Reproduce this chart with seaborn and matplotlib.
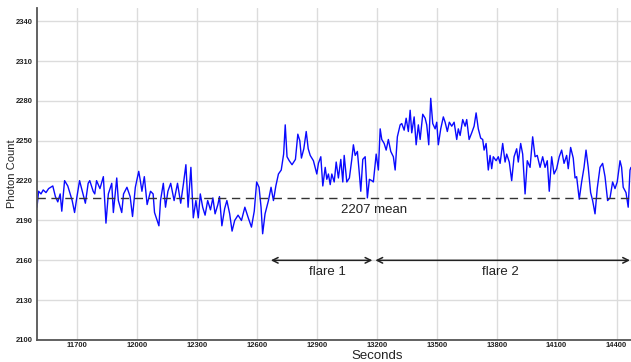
import matplotlib
matplotlib.use("Agg")
import matplotlib.pyplot as plt
import seaborn as sns
import pandas as pd

seconds = [
    11500, 11508, 11520, 11531, 11545, 11558, 11579, 11592, 11604, 11616,
    11624, 11638, 11654, 11666, 11676, 11688, 11700, 11713, 11730, 11742,
    11756, 11764, 11781, 11789, 11798, 11815, 11832, 11845, 11857, 11874,
    11882, 11899, 11907, 11924, 11933, 11950, 11966, 11978, 11992, 12009,
    12017, 12025, 12037, 12051, 12068, 12081, 12088, 12101, 12110, 12118,
    12132, 12143, 12155, 12169, 12186, 12203, 12219, 12233, 12245, 12256,
    12270, 12282, 12295, 12307, 12317, 12329, 12341, 12354, 12368, 12380,
    12391, 12405, 12413, 12425, 12439, 12450, 12464, 12476, 12489, 12506,
    12523, 12540, 12557, 12573, 12587, 12599, 12611, 12621, 12629, 12641,
    12658, 12671, 12683, 12695, 12708, 12722, 12734, 12742, 12751, 12762,
    12776, 12793, 12805, 12815, 12823, 12835, 12847, 12857,
    12867, 12883, 12900, 12908, 12920, 12930, 12942, 12950, 12958, 12967,
    12975, 12987, 12997, 13008, 13020, 13030, 13037, 13050, 13063, 13075,
    13083, 13092, 13103, 13113, 13120, 13130, 13142, 13153, 13163, 13175,
    13183, 13197, 13208, 13217, 13225, 13237, 13247, 13258, 13270, 13283,
    13292, 13303, 13317, 13325, 13337, 13347, 13358, 13367, 13375, 13387,
    13397, 13408, 13417, 13430, 13442, 13450, 13460, 13470, 13480, 13492,
    13500, 13508, 13520, 13533, 13542, 13553, 13563, 13575, 13587, 13600,
    13608, 13617, 13630, 13642, 13650, 13662, 13675, 13687, 13697, 13708,
    13720, 13730, 13737, 13747, 13758, 13767, 13775, 13783, 13797, 13808,
    13817, 13830, 13842, 13850, 13863, 13875, 13887, 13900, 13908, 13920,
    13930, 13942, 13953, 13967, 13980, 13992, 14003, 14017, 14030, 14042,
    14053, 14063, 14075, 14087, 14100, 14113, 14125, 14137, 14150, 14158,
    14170, 14183, 14192, 14200, 14213, 14225, 14237, 14247, 14258, 14270,
    14280, 14292, 14303, 14317, 14330, 14342, 14355, 14367, 14380, 14392,
    14403, 14417, 14425, 14433, 14447, 14458, 14467, 14472,
]
counts = [
    2200, 2212, 2210, 2213, 2211, 2214, 2216, 2208, 2204, 2210,
    2197, 2220, 2216, 2210, 2205, 2196, 2208, 2220, 2210, 2203,
    2218, 2220, 2212, 2210, 2220, 2214, 2223, 2188, 2210, 2218,
    2196, 2222, 2205, 2196, 2210, 2215, 2208, 2193, 2215, 2227,
    2220, 2212, 2223, 2202, 2212, 2210, 2196, 2190, 2186, 2205,
    2218, 2200, 2212, 2218, 2205, 2218, 2203, 2218, 2232, 2200,
    2230, 2192, 2205, 2192, 2210, 2200, 2194, 2205, 2198, 2207,
    2195, 2202, 2208, 2186, 2199, 2205, 2195, 2182, 2190, 2194,
    2190, 2200, 2192, 2185, 2197, 2219, 2215, 2200, 2180, 2195,
    2205, 2215, 2205, 2216, 2225, 2228, 2240, 2262, 2238, 2235,
    2232, 2236, 2255, 2250, 2237, 2244, 2257, 2244,
    2239, 2235, 2225, 2233, 2238, 2216, 2230, 2221, 2225, 2217,
    2225, 2219, 2234, 2222, 2236, 2219, 2239, 2219, 2222, 2236,
    2247, 2239, 2242, 2225, 2212, 2236, 2238, 2207, 2221, 2220,
    2219, 2240, 2228, 2259, 2251, 2248, 2243, 2251, 2242, 2238,
    2228, 2253, 2262, 2263, 2258, 2267, 2257, 2273, 2256, 2268,
    2247, 2262, 2251, 2270, 2267, 2262, 2247, 2282, 2263, 2259,
    2264, 2247, 2259, 2268, 2264, 2257, 2264, 2261, 2264, 2251,
    2259, 2254, 2266, 2261, 2266, 2251, 2256, 2261, 2271, 2259,
    2252, 2251, 2243, 2248, 2228, 2239, 2229, 2238, 2235, 2238,
    2233, 2248, 2234, 2240, 2234, 2220, 2238, 2244, 2234, 2248,
    2240, 2210, 2235, 2230, 2253, 2238, 2239, 2230, 2238, 2230,
    2235, 2212, 2238, 2225, 2229, 2238, 2243, 2233, 2239, 2229,
    2245, 2237, 2222, 2223, 2206, 2219, 2230, 2243, 2230, 2211,
    2205, 2195, 2214, 2230, 2233, 2223, 2205, 2207, 2219, 2214,
    2219, 2235, 2230, 2215, 2211, 2200, 2228, 2230,
]
mean_count = 2207
x_ticks = [11700, 12000, 12300, 12600, 12900, 13200, 13500, 13800, 14100, 14400]
y_ticks = [2100, 2130, 2160, 2190, 2220, 2250, 2280, 2310, 2340]
flare1 = (12670, 13178)
flare2 = (13193, 14467)

df = pd.DataFrame({"Seconds": seconds, "Photon Count": counts})

sns.set_style("whitegrid", {"grid.color": "#dcdcdc"})
plt.rcParams["font.family"] = ["Liberation Sans", "DejaVu Sans"]

fig = plt.figure(figsize=(6.31, 3.62), dpi=100)
ax = fig.add_axes([37 / 631, 22 / 362, 1 - 37 / 631, 332 / 362])

sns.lineplot(data=df, x="Seconds", y="Photon Count", ax=ax,
             color="#0a0aff", linewidth=1.0)

ax.axhline(mean_count, color="#333333", linestyle=(0, (6, 4)), linewidth=1.0)
ax.text(13184, 2198, f"{mean_count} mean", ha="center", va="center",
        fontsize=9.5, color="#222222")

arrow = dict(arrowstyle="<->", color="#222222", lw=1.1,
             shrinkA=0, shrinkB=0, mutation_scale=10)
ax.annotate("", xy=(flare1[0], 2160), xytext=(flare1[1], 2160), arrowprops=arrow)
ax.annotate("", xy=(flare2[0], 2160), xytext=(flare2[1], 2160), arrowprops=arrow)
ax.text(12955, 2151, "flare 1", ha="center", va="center", fontsize=9.5, color="#222222")
ax.text(13820, 2151, "flare 2", ha="center", va="center", fontsize=9.5, color="#222222")

ax.set_xlim(11500, 14472)
ax.set_ylim(2100, 2350)
ax.set_xticks(x_ticks)
ax.set_yticks(y_ticks)
ax.set_xticklabels([str(v) for v in x_ticks], fontsize=5.5, fontweight="bold", color="#222222")
ax.set_yticklabels([str(v) for v in y_ticks], fontsize=5.5, fontweight="bold", color="#222222")
ax.tick_params(axis="x", length=0, pad=1.5)
ax.tick_params(axis="y", length=0, pad=3)

ax.set_xlabel("Seconds", fontsize=9.5, color="#222222", labelpad=0)
ax.xaxis.set_label_coords(0.572, -0.03)
ax.set_ylabel("Photon Count", fontsize=8, color="#222222")
ax.yaxis.set_label_coords(-0.034, 0.5)

for side in ["top", "right"]:
    ax.spines[side].set_visible(False)
for side in ["left", "bottom"]:
    ax.spines[side].set_color("#555555")
    ax.spines[side].set_linewidth(1.3)

ax.grid(True, color="#dcdcdc", linewidth=1.0)

fig.savefig("out.png", dpi=100)
